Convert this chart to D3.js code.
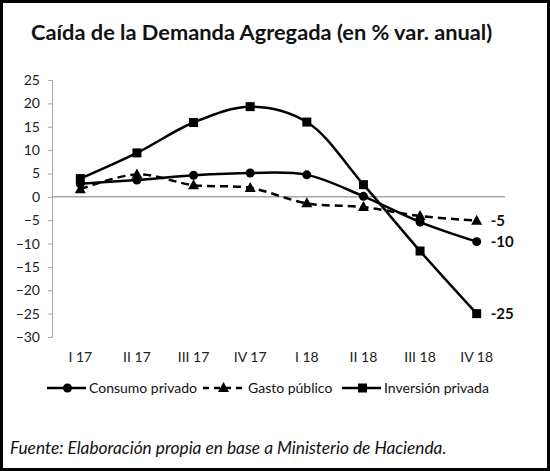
<!DOCTYPE html>
<html>
<head>
<meta charset="utf-8">
<script src="https://cdn.jsdelivr.net/npm/d3@7"></script>
<style>
  body { margin: 0; background: #fff; }
  svg { display: block; }
</style>
</head>
<body>
<svg id="svg"></svg>
<script>
const width = 550, height = 471;

// data
const quarters = ["I 17", "II 17", "III 17", "IV 17", "I 18", "II 18", "III 18", "IV 18"];
const consumo = [2.8, 3.6, 4.6, 5.1, 4.7, 0.1, -5.4, -9.6];
const gasto = [1.6, 4.8, 2.5, 1.9, -1.4, -2.2, -4.1, -5.1];
const inversion = [3.9, 9.4, 15.9, 19.3, 16.0, 2.6, -11.6, -25.0];
const yTicks = [25, 20, 15, 10, 5, 0, -5, -10, -15, -20, -25, -30];
const endLabels = ["-10", "-5", "-25"];

const series = [
  {name: "Consumo privado", values: consumo, marker: "circle", dash: null},
  {name: "Gasto público", values: gasto, marker: "triangle", dash: "8,5"},
  {name: "Inversión privada", values: inversion, marker: "square", dash: null}
];

const font = "Lato, 'Open Sans', sans-serif";
const plotLeft = 52, plotRight = 505, plotTop = 80, plotBottom = 337;

const x = d3.scaleBand().domain(quarters).range([plotLeft, plotRight]);
const y = d3.scaleLinear().domain([-30, 25]).range([plotBottom, plotTop]);
const cx = q => x(q) + x.bandwidth() / 2;

const svg = d3.select("#svg").attr("width", width).attr("height", height);

svg.append("rect")
  .attr("x", 1.5).attr("y", 1.5)
  .attr("width", width - 3).attr("height", height - 3)
  .attr("fill", "#fff").attr("stroke", "#000").attr("stroke-width", 3);

svg.append("text")
  .attr("x", 31).attr("y", 40)
  .attr("font-family", font)
  .attr("font-weight", "bold")
  .attr("font-size", 21.8)
  .attr("fill", "#111")
  .text("Caída de la Demanda Agregada (en % var. anual)");

// y axis
const yAxis = svg.append("g")
  .attr("transform", `translate(${plotLeft},0)`)
  .call(d3.axisLeft(y).tickValues(yTicks).tickSize(4).tickPadding(8));
yAxis.selectAll("path, line").attr("stroke", "#a6a6a6");
yAxis.selectAll("text")
  .attr("font-family", font)
  .attr("font-size", 14).attr("fill", "#222");

// zero line
svg.append("line")
  .attr("x1", plotLeft).attr("x2", plotRight)
  .attr("y1", y(0)).attr("y2", y(0))
  .attr("stroke", "#a6a6a6").attr("stroke-width", 1.5);

// x labels
svg.append("g")
  .selectAll("text")
  .data(quarters)
  .join("text")
  .attr("x", d => cx(d))
  .attr("y", 357)
  .attr("dy", "0.35em")
  .attr("text-anchor", "middle")
  .attr("font-family", font)
  .attr("font-size", 14).attr("fill", "#222")
  .text(d => d);

function drawMarker(g, type, px, py) {
  if (type === "circle") {
    g.append("circle").attr("cx", px).attr("cy", py).attr("r", 4.5).attr("fill", "#000");
  } else if (type === "square") {
    g.append("rect").attr("x", px - 4.5).attr("y", py - 4.5)
      .attr("width", 9).attr("height", 9).attr("fill", "#000");
  } else {
    g.append("path")
      .attr("d", `M${px},${py - 6}L${px + 5.5},${py + 4}L${px - 5.5},${py + 4}Z`)
      .attr("fill", "#000");
  }
}

const line = d3.line()
  .x((d, i) => cx(quarters[i]))
  .y(d => y(d))
  .curve(d3.curveCatmullRom.alpha(0.5));

series.forEach(s => {
  const g = svg.append("g");
  g.append("path")
    .attr("d", line(s.values))
    .attr("fill", "none")
    .attr("stroke", "#000")
    .attr("stroke-width", 2.5)
    .attr("stroke-dasharray", s.dash);
  s.values.forEach((v, i) => drawMarker(g, s.marker, cx(quarters[i]), y(v)));
});

// end labels
const last = quarters.length - 1;
svg.append("g")
  .selectAll("text")
  .data(series)
  .join("text")
  .attr("x", cx(quarters[last]) + 14)
  .attr("y", d => y(d.values[last]))
  .attr("dy", "0.35em")
  .attr("font-family", font)
  .attr("font-weight", "bold")
  .attr("font-size", 15).attr("fill", "#111")
  .text((d, i) => endLabels[i]);

// legend
const legendX = [47, 203, 342];
const legend = svg.append("g");
series.forEach((s, i) => {
  const lx = legendX[i], ly = 388;
  legend.append("line")
    .attr("x1", lx).attr("x2", lx + 39)
    .attr("y1", ly).attr("y2", ly)
    .attr("stroke", "#000").attr("stroke-width", 2.5)
    .attr("stroke-dasharray", s.dash ? "6,5" : null);
  drawMarker(legend, s.marker, lx + 20.5, ly);
  legend.append("text")
    .attr("x", lx + (s.dash ? 45 : 42)).attr("y", ly).attr("dy", "0.35em")
    .attr("font-family", font)
    .attr("font-size", 14).attr("fill", "#111")
    .text(s.name);
});

svg.append("text")
  .attr("x", 10).attr("y", 454)
  .attr("font-family", font)
  .attr("font-style", "italic")
  .attr("font-size", 17.3).attr("fill", "#111")
  .text("Fuente: Elaboración propia en base a Ministerio de Hacienda.");
</script>
</body>
</html>
